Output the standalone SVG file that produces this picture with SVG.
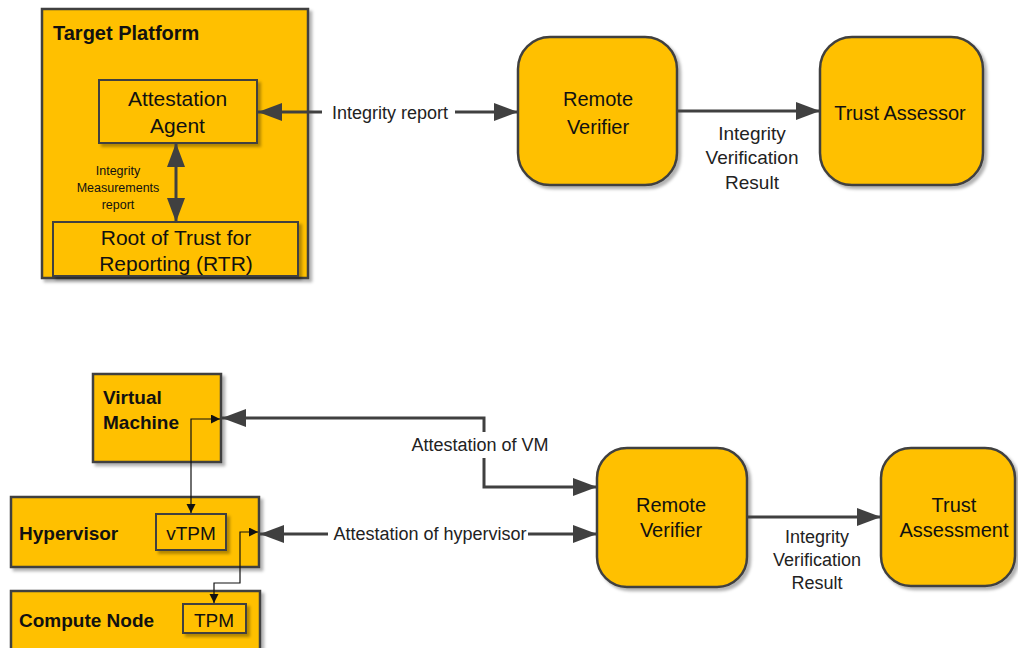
<svg xmlns="http://www.w3.org/2000/svg" width="1018" height="648" viewBox="0 0 1018 648">
<style>
.box{fill:#FFC000;stroke:#404040;stroke-width:2.5;filter:url(#sh)}
.inner{fill:#FFC000;stroke:#404040;stroke-width:2;filter:url(#sh)}
.t{font-family:"Liberation Sans",Arial,sans-serif;fill:#111;font-size:20px}
.big{font-size:21px}
.c{text-anchor:middle}
.b{font-weight:bold;font-size:19px}
.tp{font-size:20px}
.lbl{font-family:"Liberation Sans",Arial,sans-serif;fill:#222;font-size:18px;text-anchor:middle}
.l19{font-size:19px}
.sm{font-size:12.5px;fill:#111}
.thick{fill:none;stroke:#404040;stroke-width:3}
.thin{fill:none;stroke:#111;stroke-width:1.2}
</style>
<defs>
<filter id="sh" x="-10%" y="-10%" width="130%" height="130%">
<feDropShadow dx="3" dy="3" stdDeviation="1.5" flood-color="#000" flood-opacity="0.3"/>
</filter>
<marker id="big" markerUnits="userSpaceOnUse" markerWidth="26" markerHeight="20" refX="24" refY="9" orient="auto-start-reverse">
<path d="M0,0 L24,9 L0,18 z" fill="#404040"/>
</marker>
<marker id="small" markerUnits="userSpaceOnUse" markerWidth="10" markerHeight="10" refX="9" refY="4.5" orient="auto-start-reverse">
<path d="M0,0 L9,4.5 L0,9 z" fill="#111"/>
</marker>
</defs>
<rect width="1018" height="648" fill="#fff"/>

<g id="target-platform">
<rect class="box" x="42" y="9" width="266" height="269"/>
<text class="t b tp" x="53" y="40">Target Platform</text>
</g>
<g id="attestation-agent">
<rect class="inner" x="99" y="80" width="158" height="63"/>
<text class="t c big" x="177.5" y="106">Attestation</text>
<text class="t c big" x="177.5" y="133">Agent</text>
</g>
<g id="rtr">
<rect class="inner" x="53" y="222" width="245" height="54"/>
<text class="t c big" x="176" y="245">Root of Trust for</text>
<text class="t c big" x="176" y="271">Reporting (RTR)</text>
</g>
<g id="remote-verifier-1">
<rect class="box" x="518" y="37" width="159" height="148" rx="32"/>
<text class="t c" x="598" y="106">Remote</text>
<text class="t c" x="598" y="134">Verifier</text>
</g>
<g id="trust-assessor">
<rect class="box" x="820" y="37" width="163" height="148" rx="32"/>
<text class="t c" x="900" y="120">Trust Assessor</text>
</g>

<g id="virtual-machine">
<rect class="box" x="93" y="374" width="128" height="88"/>
<text class="t b" x="103" y="404">Virtual</text>
<text class="t b" x="103" y="429">Machine</text>
</g>
<g id="hypervisor">
<rect class="box" x="11" y="497" width="248" height="70"/>
<text class="t b" x="19" y="540">Hypervisor</text>
</g>
<g id="vtpm">
<rect class="inner" x="156" y="514" width="70" height="36"/>
<text class="t c" x="191" y="540" style="font-size:19px">vTPM</text>
</g>
<g id="compute-node">
<rect class="box" x="11" y="591" width="249" height="70"/>
<text class="t b" x="19" y="627">Compute Node</text>
</g>
<g id="tpm">
<rect class="inner" x="183" y="604" width="63" height="29"/>
<text class="t c" x="214" y="627" style="font-size:19px">TPM</text>
</g>
<g id="remote-verifier-2">
<rect class="box" x="597" y="448" width="150" height="139" rx="30"/>
<text class="t c" x="671" y="512">Remote</text>
<text class="t c" x="671" y="537">Verifier</text>
</g>
<g id="trust-assessment">
<rect class="box" x="881" y="448" width="134" height="138" rx="30"/>
<text class="t c" x="954" y="512">Trust</text>
<text class="t c" x="954" y="537">Assessment</text>
</g>

<g id="connectors">
<path class="thick" d="M176,143 V222" marker-start="url(#big)" marker-end="url(#big)"/>
<path class="thick" d="M322,112 H258" marker-end="url(#big)"/>
<path class="thick" d="M455,112 H518" marker-end="url(#big)"/>
<path class="thick" d="M677,111 H820" marker-end="url(#big)"/>
<path class="thick" d="M484,432 V418 H222" marker-end="url(#big)"/>
<path class="thick" d="M484,458 V487 H597" marker-end="url(#big)"/>
<path class="thick" d="M328,534 H260" marker-end="url(#big)"/>
<path class="thick" d="M528,534 H597" marker-end="url(#big)"/>
<path class="thick" d="M747,517 H881" marker-end="url(#big)"/>
<path class="thin" d="M191,513 V419 H220" marker-start="url(#small)" marker-end="url(#small)"/>
<path class="thin" d="M258,532 H240 V583 H214 V603" marker-start="url(#small)" marker-end="url(#small)"/>
</g>

<g id="labels">
<text class="lbl sm" x="118" y="175">Integrity</text>
<text class="lbl sm" x="118" y="192">Measurements</text>
<text class="lbl sm" x="118" y="209">report</text>
<text class="lbl" x="390" y="119">Integrity report</text>
<text class="lbl l19" x="752" y="140">Integrity</text>
<text class="lbl l19" x="752" y="164">Verification</text>
<text class="lbl l19" x="752" y="189">Result</text>
<text class="lbl" x="480" y="451">Attestation of VM</text>
<text class="lbl" x="430" y="540">Attestation of hypervisor</text>
<text class="lbl" x="817" y="543">Integrity</text>
<text class="lbl" x="817" y="566">Verification</text>
<text class="lbl" x="817" y="589">Result</text>
</g>
</svg>
